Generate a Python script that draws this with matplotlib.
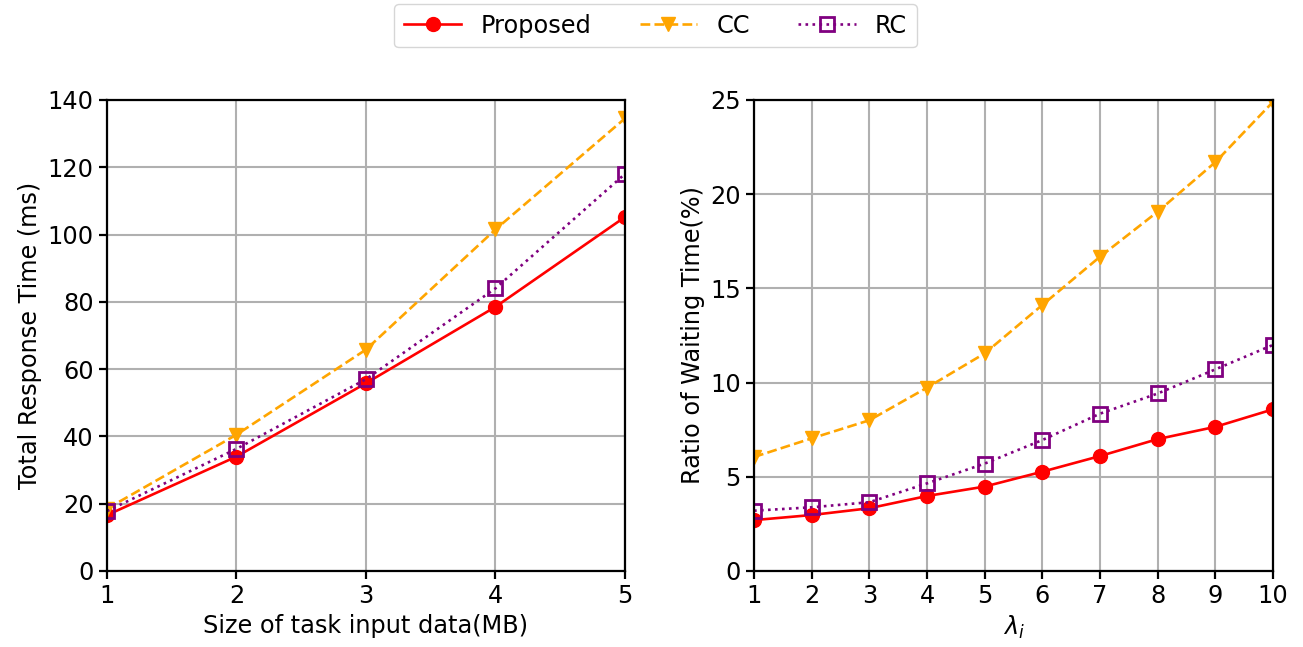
import matplotlib
matplotlib.use('Agg')
import matplotlib.pyplot as plt

# left panel: response time vs input size
size_mb = [1, 2, 3, 4, 5]
resp_proposed = [16.6, 34.0, 55.8, 78.5, 105.2]
resp_cc = [18.5, 40.5, 65.8, 101.5, 134.5]
resp_rc = [17.8, 36.3, 57.0, 84.0, 118.0]

# right panel: waiting time ratio vs lambda
lam = [1, 2, 3, 4, 5, 6, 7, 8, 9, 10]
wait_proposed = [2.7, 2.97, 3.33, 3.98, 4.48, 5.27, 6.1, 7.0, 7.65, 8.58]
wait_cc = [6.05, 7.04, 8.0, 9.73, 11.55, 14.12, 16.68, 19.07, 21.7, 24.9]
wait_rc = [3.2, 3.38, 3.65, 4.65, 5.7, 6.95, 8.35, 9.42, 10.7, 12.0]

plt.rcParams.update({'font.family': 'DejaVu Sans', 'font.size': 17.3})

fig = plt.figure(figsize=(13.03, 6.47), dpi=100)
ax1 = fig.add_axes([0.0821, 0.1175, 0.3975, 0.728])
ax2 = fig.add_axes([0.5787, 0.1175, 0.3983, 0.728])

styles = [
    dict(color='red', linestyle='-', marker='o', markersize=10, label='Proposed'),
    dict(color='orange', linestyle='--', marker='v', markersize=10, label='CC'),
    dict(color='purple', linestyle=':', marker='s', markersize=10, fillstyle='none',
         markeredgewidth=2, label='RC'),
]

for ys, st in zip([resp_proposed, resp_cc, resp_rc], styles):
    ax1.plot(size_mb, ys, linewidth=1.9, **st)
ax1.set_xlim(1, 5)
ax1.set_ylim(0, 140)
ax1.set_xticks(size_mb)
ax1.set_yticks(range(0, 141, 20))
ax1.set_xlabel('Size of task input data(MB)')
ax1.set_ylabel('Total Response Time (ms)')
ax1.grid(True, color='#b0b0b0', linewidth=1.5)

for ys, st in zip([wait_proposed, wait_cc, wait_rc], styles):
    ax2.plot(lam, ys, linewidth=1.9, **st)
ax2.set_xlim(1, 10)
ax2.set_ylim(0, 25)
ax2.set_xticks(lam)
ax2.set_yticks(range(0, 26, 5))
ax2.set_xlabel(r'$\lambda_i$')
ax2.set_ylabel('Ratio of Waiting Time(%)')
ax2.grid(True, color='#b0b0b0', linewidth=1.5)

for ax in (ax1, ax2):
    for sp in ax.spines.values():
        sp.set_linewidth(1.6)
    ax.tick_params(width=1.6, length=6)

handles, labels = ax1.get_legend_handles_labels()
fig.legend(handles, labels, loc='upper center', bbox_to_anchor=(0.503, 1.012),
           ncol=3, frameon=True, columnspacing=2.0, handlelength=2.4)

fig.savefig('out.png', dpi=100)
